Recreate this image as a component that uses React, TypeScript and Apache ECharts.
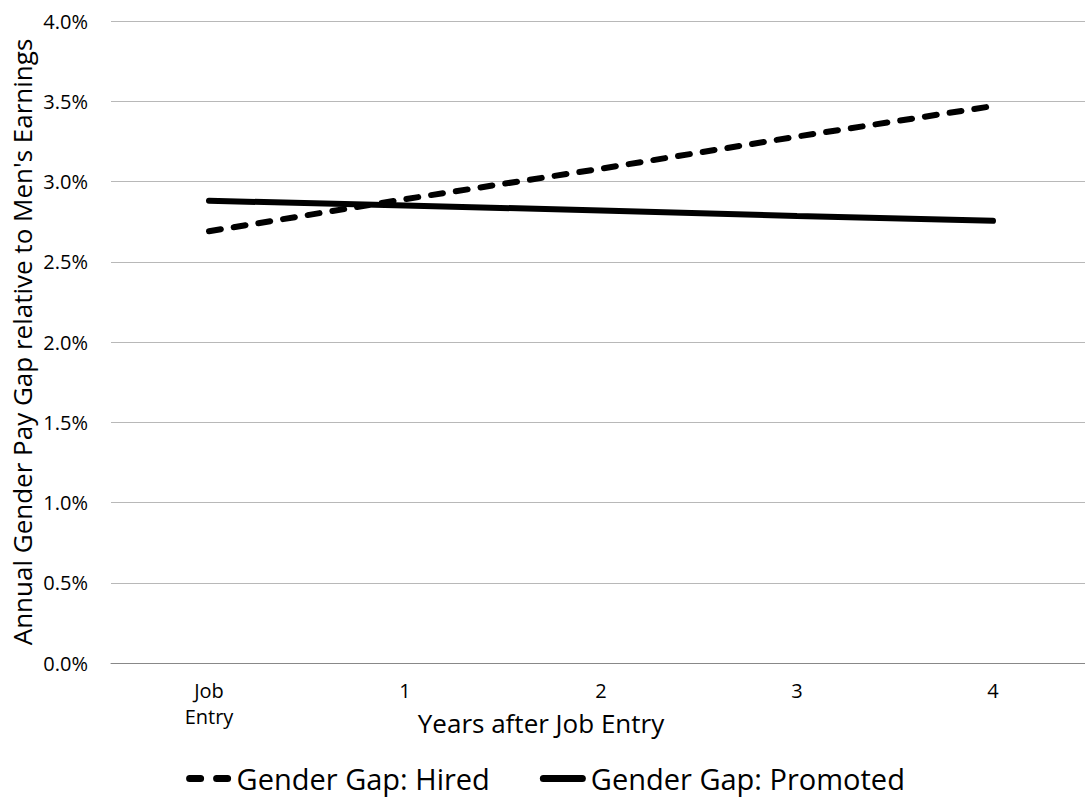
import React, { useEffect, useRef } from "react";
import * as echarts from "echarts";

const categories = ["Job\nEntry", "1", "2", "3", "4"];
const hiredGap = [2.69, 2.89, 3.08, 3.28, 3.47];
const promotedGap = [2.88, 2.85, 2.82, 2.785, 2.755];
const yTicks = { min: 0, max: 4, interval: 0.5 };

const FONT = "'Open Sans', 'Noto Sans', sans-serif";

// legend keys: a pair of rounded dashes and a single rounded bar
const DASHED_ICON =
  "path://M3.5,0H14.5A3.5,3.5,0,0,1,14.5,7H3.5A3.5,3.5,0,0,1,3.5,0Z" +
  "M30.5,0H41.5A3.5,3.5,0,0,1,41.5,7H30.5A3.5,3.5,0,0,1,30.5,0Z";
const SOLID_ICON = "path://M3.5,0H42.5A3.5,3.5,0,0,1,42.5,7H3.5A3.5,3.5,0,0,1,3.5,0Z";

export default function App() {
  const ref = useRef<HTMLDivElement>(null);

  useEffect(() => {
    if (!ref.current) return;
    const chart = echarts.init(ref.current, undefined, { renderer: "svg" });
    chart.setOption({
      animation: false,
      backgroundColor: "#ffffff",
      textStyle: { fontFamily: FONT, color: "#000" },
      grid: { left: 111, right: 0, top: 21, bottom: 143, containLabel: false },
      legend: {
        top: 759,
        left: "center",
        itemWidth: 46,
        itemHeight: 7,
        itemGap: 50,
        itemStyle: { borderWidth: 0 },
        textStyle: { fontFamily: FONT, fontSize: 29, color: "#000" },
        data: [
          { name: "Gender Gap: Hired", icon: DASHED_ICON },
          { name: "Gender Gap: Promoted", icon: SOLID_ICON },
        ],
      },
      xAxis: {
        type: "category",
        data: categories,
        boundaryGap: true,
        name: "Years after Job Entry",
        nameLocation: "middle",
        nameGap: 47,
        nameMoveOverlap: false,
        nameTextStyle: { fontFamily: FONT, fontSize: 26, color: "#000", padding: [0, 120, 0, 0] },
        axisLine: { lineStyle: { color: "#888", width: 1 } },
        axisTick: { show: false },
        axisLabel: { fontFamily: FONT, fontSize: 20, color: "#000", margin: 14, lineHeight: 26 },
      },
      yAxis: {
        type: "value",
        min: yTicks.min,
        max: yTicks.max,
        interval: yTicks.interval,
        name: "Annual Gender Pay Gap relative to Men's Earnings",
        nameLocation: "middle",
        nameGap: 76,
        nameMoveOverlap: false,
        nameTextStyle: { fontFamily: FONT, fontSize: 26, color: "#000" },
        axisLine: { show: false },
        axisTick: { show: false },
        splitLine: { lineStyle: { color: "#b8b8b8", width: 1 } },
        axisLabel: {
          fontFamily: FONT,
          fontSize: 20,
          color: "#000",
          margin: 23,
          formatter: (v: number) => v.toFixed(1) + "%",
        },
      },
      series: [
        {
          name: "Gender Gap: Hired",
          type: "line",
          data: hiredGap,
          symbol: "none",
          lineStyle: { color: "#000", width: 6, type: [12, 13], cap: "round" },
          itemStyle: { color: "#000" },
        },
        {
          name: "Gender Gap: Promoted",
          type: "line",
          data: promotedGap,
          symbol: "none",
          lineStyle: { color: "#000", width: 6, type: "solid", cap: "round" },
          itemStyle: { color: "#000" },
        },
      ],
    });
    return () => chart.dispose();
  }, []);

  return (
    <div
      style={{
        position: "absolute",
        left: 0,
        top: 0,
        width: 1085,
        height: 806,
        overflow: "hidden",
        background: "#fff",
      }}
    >
      <div ref={ref} style={{ width: 1091, height: 806 }} />
    </div>
  );
}
